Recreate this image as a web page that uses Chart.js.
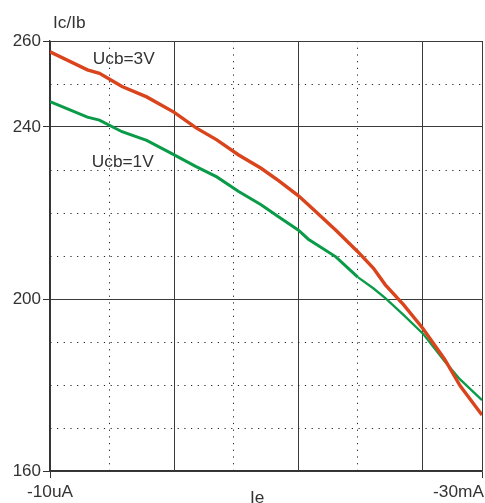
<!DOCTYPE html>
<html>
<head>
<meta charset="utf-8">
<script src="https://cdn.jsdelivr.net/npm/chart.js@4/dist/chart.umd.min.js"></script>
<style>
  html, body { margin: 0; padding: 0; background: #fff; }
  canvas { display: block; }
</style>
</head>
<body>
<canvas id="c" width="485" height="503"></canvas>
<script>
// Emitter current magnitude (A), log axis from 10uA to 30mA
const currents = [1e-5, 2e-5, 2.5e-5, 3.8e-5, 6e-5, 1e-4, 1.5e-4, 2.2e-4, 3.3e-4, 5e-4, 7e-4,
                  1e-3, 1.2e-3, 2e-3, 3e-3, 4e-3, 5e-3, 7e-3, 1e-2, 1.5e-2, 2e-2, 3e-2];
// Current gain Ic/Ib at Ucb = 3 V
const gain3V = [257.5, 253.3, 252.5, 249.4, 247.0, 243.4, 239.8, 237.0, 233.5, 230.4, 227.4,
                224.0, 221.9, 216.0, 211.0, 207.2, 203.3, 198.7, 193.2, 186.0, 179.8, 173.0];
// Current gain Ic/Ib at Ucb = 1 V
const gain1V = [245.9, 242.3, 241.6, 238.9, 236.9, 233.5, 230.8, 228.4, 225.0, 221.9, 219.0,
                216.0, 213.9, 209.8, 205.1, 202.5, 200.2, 196.3, 192.0, 185.5, 181.3, 176.5];

const xGrid = [1e-5, 3e-5, 1e-4, 3e-4, 1e-3, 3e-3, 1e-2, 3e-2];
const xSolid = [1e-5, 1e-4, 1e-3, 1e-2, 3e-2];
const xTickLabels = { first: '-10uA', last: '-30mA' };
const yGrid = [160, 170, 180, 190, 200, 210, 220, 230, 240, 250, 260];
const ySolid = [160, 200, 240, 260];

const FONT = '"Liberation Sans", Arial, sans-serif';
const TEXT = '#333';
const DOT = [1.2, 5.5];
const STRETCH = 1.08;

const pts = (ys) => currents.map((x, i) => ({ x, y: ys[i] }));
const isSolidX = (v) => xSolid.some(s => Math.abs(Math.log10(s) - Math.log10(v)) < 1e-6);

// slightly widened text, anchored left / center / right at (x, y)
function wideText(ctx, text, x, y, align) {
  const w = ctx.measureText(text).width * STRETCH;
  const left = align === 'center' ? x - w / 2 : align === 'right' ? x - w : x;
  ctx.save();
  ctx.translate(left, y);
  ctx.scale(STRETCH, 1);
  ctx.textAlign = 'left';
  ctx.fillText(text, 0, 0);
  ctx.restore();
}

const captions = {
  id: 'captions',
  afterDraw(chart) {
    const { ctx, chartArea, scales: { x, y } } = chart;
    ctx.save();
    ctx.fillStyle = TEXT;
    ctx.font = '16px ' + FONT;
    ctx.textBaseline = 'alphabetic';
    // axis titles
    wideText(ctx, 'Ic/Ib', chartArea.left + 3, chartArea.top - 13, 'left');
    wideText(ctx, 'Ie', 250, 503, 'left');
    // x tick labels at the ends of the axis
    wideText(ctx, xTickLabels.first, x.getPixelForValue(1e-5), 497, 'center');
    wideText(ctx, xTickLabels.last, x.getPixelForValue(3e-2) + 2, 497, 'right');
    // curve labels
    wideText(ctx, 'Ucb=3V', x.getPixelForValue(2.21e-5), y.getPixelForValue(254.65), 'left');
    wideText(ctx, 'Ucb=1V', x.getPixelForValue(2.17e-5), y.getPixelForValue(230.7), 'left');
    ctx.restore();
  }
};

new Chart(document.getElementById('c'), {
  type: 'line',
  data: {
    datasets: [
      {
        label: 'Ucb=3V',
        data: pts(gain3V),
        borderColor: '#d9441c',
        borderWidth: 3.4,
        pointRadius: 0,
        tension: 0
      },
      {
        label: 'Ucb=1V',
        data: pts(gain1V),
        borderColor: '#0a9b48',
        borderWidth: 3,
        pointRadius: 0,
        tension: 0,
        segment: {
          borderWidth: (c) => (c.p0.parsed.x >= 3e-3 ? 2.3 : 3)
        }
      }
    ]
  },
  options: {
    responsive: false,
    animation: false,
    events: [],
    layout: { padding: { top: 41, right: 3, left: 0, bottom: 0 } },
    plugins: { legend: { display: false }, tooltip: { enabled: false } },
    scales: {
      x: {
        type: 'logarithmic',
        min: 1e-5,
        max: 3e-2,
        afterBuildTicks: (s) => { s.ticks = xGrid.map(v => ({ value: v })); },
        afterFit: (s) => { s.height = 32; },
        ticks: { display: false },
        grid: {
          color: (c) => isSolidX(c.tick.value) ? '#3a3a3a' : '#222',
          lineWidth: 1,
          drawTicks: true,
          tickLength: 7,
          tickColor: (c) => (c.tick && (c.tick.value === 1e-5 || c.tick.value === 3e-2)) ? '#333' : 'rgba(0,0,0,0)'
        },
        border: {
          display: true,
          color: '#333',
          width: 1.3,
          dash: (c) => (c.tick && !isSolidX(c.tick.value)) ? DOT : []
        }
      },
      y: {
        type: 'linear',
        min: 160,
        max: 260,
        afterBuildTicks: (s) => { s.ticks = yGrid.map(v => ({ value: v })); },
        afterFit: (s) => { s.width = 50; },
        ticks: {
          color: TEXT,
          font: { family: FONT, size: 17 },
          padding: 2,
          callback: (v) => ySolid.includes(v) ? String(v) : ''
        },
        grid: {
          color: (c) => ySolid.includes(c.tick.value) ? '#3a3a3a' : '#222',
          lineWidth: 1,
          drawTicks: true,
          tickLength: 7,
          tickColor: (c) => (c.tick && ySolid.includes(c.tick.value)) ? '#333' : 'rgba(0,0,0,0)'
        },
        border: {
          display: true,
          color: '#333',
          width: 1.3,
          dash: (c) => (c.tick && !ySolid.includes(c.tick.value)) ? DOT : []
        }
      }
    }
  },
  plugins: [captions]
});
</script>
</body>
</html>
